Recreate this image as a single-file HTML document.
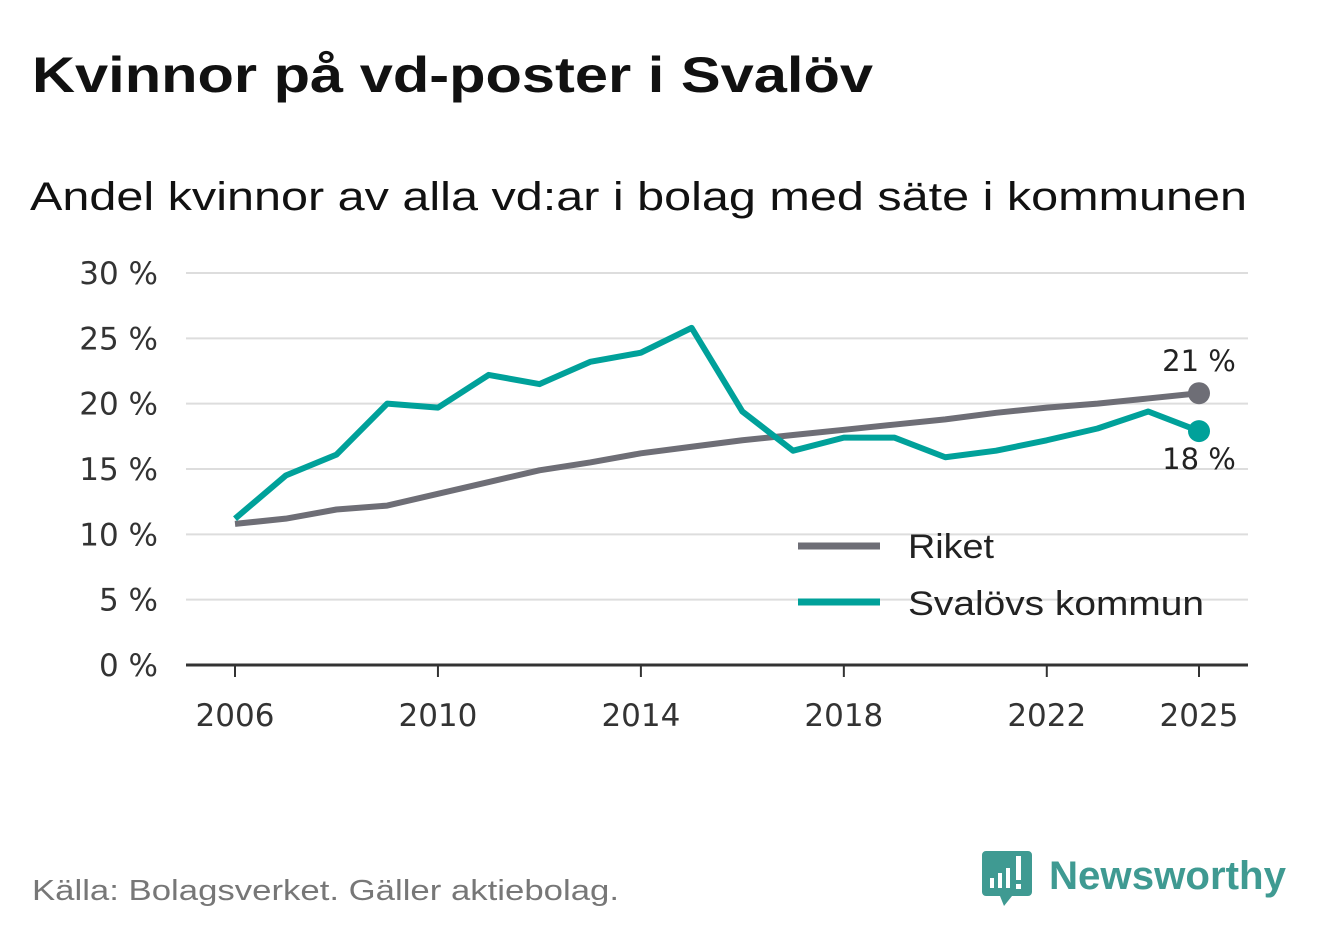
<!DOCTYPE html>
<html><head><meta charset="utf-8"><style>
body{margin:0;width:1322px;height:939px;background:#fff;overflow:hidden;font-family:"Liberation Sans",sans-serif}
svg text{font-family:"Liberation Sans",sans-serif}
</style></head><body>
<svg id="chart" width="1322" height="939">
<text x="32" y="92" font-size="50" font-weight="bold" fill="#111" textLength="841" lengthAdjust="spacingAndGlyphs">Kvinnor på vd-poster i Svalöv</text>
<text x="30" y="210" font-size="40" fill="#111" textLength="1217" lengthAdjust="spacingAndGlyphs">Andel kvinnor av alla vd:ar i bolag med säte i kommunen</text>
<g id="grid"></g><g id="lines"></g>
<g>
<line x1="798" y1="546" x2="880" y2="546" stroke="#6e6e76" stroke-width="7"/>
<text x="908" y="558" font-size="34" fill="#222" textLength="86" lengthAdjust="spacingAndGlyphs">Riket</text>
<line x1="798" y1="602" x2="880" y2="602" stroke="#00a19a" stroke-width="7"/>
<text x="908" y="615" font-size="34" fill="#222" textLength="296" lengthAdjust="spacingAndGlyphs">Svalövs kommun</text>
</g>
<text x="32" y="900" font-size="29" fill="#777" textLength="587" lengthAdjust="spacingAndGlyphs">Källa: Bolagsverket. Gäller aktiebolag.</text>
<g>
<path d="M986 851 h42 a4 4 0 0 1 4 4 v37 a4 4 0 0 1 -4 4 h-16 l-8 10 l-4 -10 h-14 a4 4 0 0 1 -4 -4 v-37 a4 4 0 0 1 4 -4z" fill="#3f9a92"/>
<rect x="990" y="878" width="4" height="10" fill="#fff"/><rect x="998" y="873" width="4" height="15" fill="#fff"/><rect x="1006" y="868" width="4" height="20" fill="#fff"/><rect x="1016" y="856" width="5" height="24" fill="#fff"/><rect x="1016" y="884" width="5" height="5" fill="#fff"/>
<text x="1049" y="889" font-size="40" font-weight="bold" fill="#3f9a92" textLength="237" lengthAdjust="spacingAndGlyphs">Newsworthy</text>
</g>
</svg>
<script>
const years=[2006,2007,2008,2009,2010,2011,2012,2013,2014,2015,2016,2017,2018,2019,2020,2021,2022,2023,2024,2025];
const riket=[10.8,11.2,11.9,12.2,13.1,14.0,14.9,15.5,16.2,16.7,17.2,17.6,18.0,18.4,18.8,19.3,19.7,20.0,20.4,20.8];
const svalov=[11.2,14.5,16.1,20.0,19.7,22.2,21.5,23.2,23.9,25.8,19.4,16.4,17.4,17.4,15.9,16.4,17.2,18.1,19.4,17.9];
const yTicks=[0,5,10,15,20,25,30];
const xTicks=[2006,2010,2014,2018,2022,2025];
const NS="http://www.w3.org/2000/svg";
const x=v=>235+(v-2006)*(1199-235)/19;
const y=v=>665-v*(665-273)/30;
function mk(tag,attrs,parent,txt){const e=document.createElementNS(NS,tag);for(const k in attrs)e.setAttribute(k,attrs[k]);if(txt!==undefined)e.textContent=txt;parent.appendChild(e);return e;}
const grid=document.getElementById('grid'),lines=document.getElementById('lines');
yTicks.forEach(t=>{
 const l=mk('line',{x1:186,x2:1248,y1:y(t),y2:y(t),stroke:t===0?'#333':'#ddd','stroke-width':t===0?3:2},grid);
 
 
 const tx=mk('text',{x:158,y:y(t)+11,'font-size':31,fill:'#333','text-anchor':'end',style:'font-family:"DejaVu Sans",sans-serif'},grid,t+' %');
 
 
});
xTicks.forEach(t=>{
 const l=mk('line',{x1:x(t),x2:x(t),y1:665,y2:677,stroke:'#333','stroke-width':2},grid);
 
 
 const tx=mk('text',{x:x(t),y:726,'font-size':31,fill:'#333','text-anchor':'middle',style:'font-family:"DejaVu Sans",sans-serif'},grid,String(t));
 
 
});
function series(vals,color,name){
 const p=mk('polyline',{points:vals.map((v,i)=>x(years[i])+','+y(v)).join(' '),fill:'none',stroke:color,'stroke-width':6,'stroke-linejoin':'round'},lines);
 
 
 const n=vals.length-1;
 const c=mk('circle',{cx:x(years[n]),cy:y(vals[n]),r:11,fill:color},lines);
 
 
}
series(riket,'#6e6e76','riket');
series(svalov,'#00a19a','svalov');
const l1=mk('text',{x:x(2025),y:y(riket[19])-22,'font-size':29,fill:'#222','text-anchor':'middle',style:'font-family:"DejaVu Sans",sans-serif'},lines,Math.round(riket[19])+' %');


const l2=mk('text',{x:x(2025),y:y(svalov[19])+38,'font-size':29,fill:'#222','text-anchor':'middle',style:'font-family:"DejaVu Sans",sans-serif'},lines,Math.round(svalov[19])+' %');


</script>
</body></html>
